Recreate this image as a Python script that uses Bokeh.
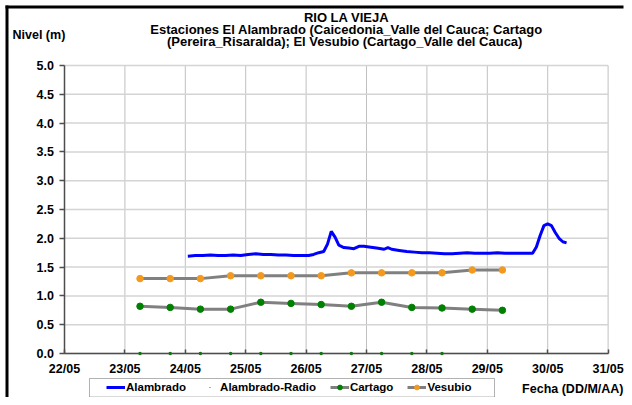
import pandas as pd
from bokeh.plotting import figure
from bokeh.models import (ColumnDataSource, Range1d, FixedTicker, DatetimeTickFormatter,
                          NumeralTickFormatter, Label, Legend, LegendItem, BoxAnnotation)
from bokeh.embed import file_html
from bokeh.resources import INLINE

# ---------------- data ----------------
title_lines = ["RIO LA VIEJA",
               "Estaciones El Alambrado (Caicedonia_Valle del Cauca; Cartago",
               "(Pereira_Risaralda);  El Vesubio (Cartago_Valle del Cauca)"]
y_title = "Nivel (m)"
x_title = "Fecha (DD/M/AA)"
series_names = ["Alambrado", "Alambrado-Radio", "Cartago", "Vesubio"]

axis_days = ["2008-05-22", "2008-05-23", "2008-05-24", "2008-05-25", "2008-05-26",
             "2008-05-27", "2008-05-28", "2008-05-29", "2008-05-30", "2008-05-31"]
y_ticks = [0.0, 0.5, 1.0, 1.5, 2.0, 2.5, 3.0, 3.5, 4.0, 4.5, 5.0]

# Alambrado: hours after 22/05 00:00 and level (m)
alambrado_hours = [49, 52, 55, 58, 61, 64, 67, 70, 73, 76, 79, 82, 85, 88, 91, 94, 97,
                   99, 101, 103, 104.5, 106, 107.5, 109, 111, 113, 115, 117, 119, 121,
                   124, 127, 128.5, 130, 133, 136, 139, 142, 145, 148, 151, 154, 157,
                   160, 163, 166, 169, 172, 175, 178, 181, 184, 186, 187.5, 189, 190.5,
                   192, 193.5, 195, 196.5, 198, 199.5]
alambrado_level = [1.69, 1.70, 1.70, 1.71, 1.70, 1.70, 1.71, 1.70, 1.72, 1.73, 1.72,
                   1.72, 1.71, 1.71, 1.70, 1.70, 1.70, 1.72, 1.75, 1.77, 1.90, 2.12,
                   2.02, 1.88, 1.84, 1.83, 1.82, 1.86, 1.86, 1.85, 1.83, 1.81, 1.84,
                   1.81, 1.79, 1.77, 1.76, 1.75, 1.75, 1.74, 1.73, 1.73, 1.74, 1.75,
                   1.74, 1.74, 1.74, 1.75, 1.74, 1.74, 1.74, 1.74, 1.74, 1.85, 2.05,
                   2.22, 2.25, 2.22, 2.10, 2.00, 1.94, 1.92]

station_times = ["2008-05-23 06:00", "2008-05-23 18:00", "2008-05-24 06:00",
                 "2008-05-24 18:00", "2008-05-25 06:00", "2008-05-25 18:00",
                 "2008-05-26 06:00", "2008-05-26 18:00", "2008-05-27 06:00",
                 "2008-05-27 18:00", "2008-05-28 06:00", "2008-05-28 18:00",
                 "2008-05-29 06:00"]
cartago_level = [0.82, 0.80, 0.77, 0.77, 0.89, 0.87, 0.85, 0.82, 0.89, 0.80, 0.79, 0.77, 0.75]
vesubio_level = [1.30, 1.30, 1.30, 1.35, 1.35, 1.35, 1.35, 1.40, 1.40, 1.40, 1.40, 1.45, 1.45]

radio_times = ["2008-05-23 06:00", "2008-05-23 18:00", "2008-05-24 06:00",
               "2008-05-24 18:00", "2008-05-25 06:00", "2008-05-25 18:00",
               "2008-05-26 06:00", "2008-05-26 18:00", "2008-05-27 06:00",
               "2008-05-27 18:00", "2008-05-28 06:00"]
radio_level = [0.0, 0.0, 0.0, 0.0, 0.0, 0.0, 0.0, 0.0, 0.0, 0.0, 0.0]

# ---------------- layout helpers (pixel -> data) ----------------
W, H = 624, 397
day_ms = 86400000.0
t0 = pd.Timestamp(axis_days[0])
t0_ms = t0.value / 1e6
tick_ms = [pd.Timestamp(d).value / 1e6 for d in axis_days]

AX_X, AX_Y, PX_PER_DAY, PX_PER_M = 64, 353, 60.4, 57.6   # plot-area origin & scale


def dx(px):
    return t0_ms + (px - AX_X) / PX_PER_DAY * day_ms


def dy(py):
    return (AX_Y - py) / PX_PER_M


FONT = "Liberation Sans"

alam_src = ColumnDataSource(dict(
    t=[t0 + pd.Timedelta(hours=h) for h in alambrado_hours], v=alambrado_level))
st_src = ColumnDataSource(dict(t=pd.to_datetime(station_times), c=cartago_level, v=vesubio_level))
radio_src = ColumnDataSource(dict(t=pd.to_datetime(radio_times), v=radio_level))

p = figure(width=W, height=H, output_backend="svg", toolbar_location=None,
           x_axis_type="datetime", title=None,
           x_axis_location="above", y_axis_location="right",
           x_range=Range1d(dx(0), dx(W)), y_range=Range1d(dy(H), dy(0)),
           min_border_left=0, min_border_right=0, min_border_top=0, min_border_bottom=0)
p.outline_line_color = None
p.background_fill_color = "white"
p.border_fill_color = "white"
p.xgrid.visible = False
p.ygrid.visible = False

# outer chart border (left and top edges visible)
p.add_layout(BoxAnnotation(left=dx(5), right=dx(8), top=dy(5), bottom=dy(H),
                           fill_color="black", fill_alpha=1, line_color=None))
p.add_layout(BoxAnnotation(left=dx(5), right=dx(W - 1), top=dy(5), bottom=dy(8),
                           fill_color="black", fill_alpha=1, line_color=None))

# grid lines, limited to the plot area
p.segment(x0=pd.to_datetime(axis_days), y0=y_ticks[0], x1=pd.to_datetime(axis_days),
          y1=y_ticks[-1], line_color="#C0C0C0", line_width=1)
p.segment(x0=t0, y0=y_ticks, x1=pd.Timestamp(axis_days[-1]), y1=y_ticks,
          line_color="#D4D4D4", line_width=1.5)

# x axis: drawn at y = 0, labels below it
xa = p.xaxis[0]
xa.fixed_location = 0
xa.bounds = (tick_ms[0], tick_ms[-1])
xa.ticker = FixedTicker(ticks=tick_ms)
fmt = "%d/%m"
xa.formatter = DatetimeTickFormatter(days=fmt, months=fmt, hours=fmt, years=fmt,
                                     minutes=fmt, seconds=fmt, milliseconds=fmt,
                                     minsec=fmt, hourmin=fmt)
xa.major_tick_out = 4
xa.major_tick_in = 0
xa.major_label_standoff = -26

# y axis: drawn at 22/05, labels left of it
ya = p.yaxis[0]
ya.fixed_location = tick_ms[0]
ya.bounds = (y_ticks[0], y_ticks[-1])
ya.ticker = FixedTicker(ticks=y_ticks)
ya.formatter = NumeralTickFormatter(format="0.0")
ya.major_tick_out = 0
ya.major_tick_in = 5
ya.major_label_standoff = -28

for ax in (xa, ya):
    ax.axis_line_color = "#4D4D4D"
    ax.axis_line_width = 1.5
    ax.major_tick_line_color = "#4D4D4D"
    ax.major_tick_line_width = 1.5
    ax.minor_tick_line_color = None
    ax.major_label_text_font = FONT
    ax.major_label_text_font_style = "bold"
    ax.major_label_text_font_size = "12.5px"
    ax.major_label_text_color = "black"

# series
r_alam = p.line("t", "v", source=alam_src, line_color="#0000FF", line_width=3)
r_radio = p.scatter("t", "v", source=radio_src, marker="dot", size=14,
                    fill_color="#008000", line_color="#008000")
r_cart_l = p.line("t", "c", source=st_src, line_color="#808080", line_width=3)
r_cart_m = p.scatter("t", "c", source=st_src, marker="circle", size=6.5,
                     fill_color="#008000", line_color="#008000")
r_ves_l = p.line("t", "v", source=st_src, line_color="#808080", line_width=3)
r_ves_m = p.scatter("t", "v", source=st_src, marker="circle", size=6.5,
                    fill_color="#F39A1E", line_color="#F39A1E")

# legend box + legend
p.add_layout(BoxAnnotation(left=dx(89), right=dx(494), top=dy(378), bottom=dy(396.5),
                           fill_color="white", fill_alpha=1, line_color="black",
                           line_width=1, level="annotation"))
legend = Legend(items=[
    LegendItem(label=series_names[0], renderers=[r_alam]),
    LegendItem(label=series_names[1], renderers=[r_radio]),
    LegendItem(label=series_names[2], renderers=[r_cart_l, r_cart_m]),
    LegendItem(label=series_names[3], renderers=[r_ves_l, r_ves_m]),
], orientation="horizontal", location=(106, 1),
    padding=0, margin=0, spacing=14, glyph_width=19, glyph_height=12,
    label_height=18, label_standoff=1, border_line_color=None,
    background_fill_alpha=0, label_text_font=FONT, label_text_font_style="bold",
    label_text_font_size="11.5px", label_text_color="black")
p.add_layout(legend)

# texts
for i, line in enumerate(title_lines):
    p.add_layout(Label(x=dx(346), y=dy(17 + 12 * i), text=line, text_align="center",
                       text_baseline="middle", text_font=FONT, text_font_style="bold",
                       text_font_size="13px", text_color="black"))
p.add_layout(Label(x=dx(12), y=dy(34), text=y_title, text_align="left",
                   text_baseline="middle", text_font=FONT, text_font_style="bold",
                   text_font_size="12.5px", text_color="black"))
p.add_layout(Label(x=dx(623), y=dy(388), text=x_title, text_align="right",
                   text_baseline="middle", text_font=FONT, text_font_style="bold",
                   text_font_size="12.5px", text_color="black"))

open("out.html", "w").write(file_html(p, INLINE))
